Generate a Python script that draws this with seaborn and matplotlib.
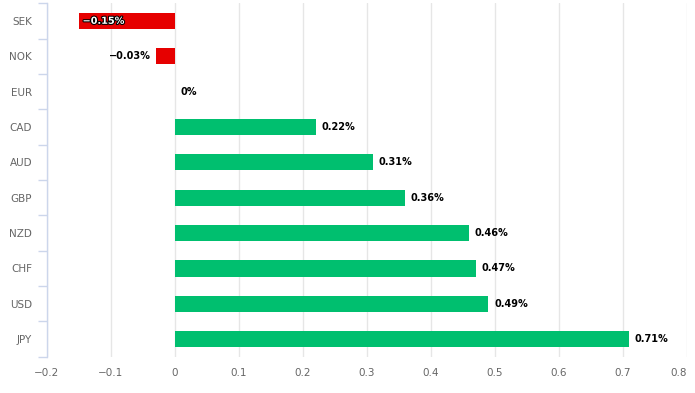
import numpy as np
import pandas as pd
import matplotlib.pyplot as plt
import matplotlib.patheffects as pe
import seaborn as sns

currencies = ['SEK', 'NOK', 'EUR', 'CAD', 'AUD', 'GBP', 'NZD', 'CHF', 'USD', 'JPY']
changes = [-0.15, -0.03, 0.0, 0.22, 0.31, 0.36, 0.46, 0.47, 0.49, 0.71]
labels = ['\u22120.15%', '\u22120.03%', '0%', '0.22%', '0.31%', '0.36%',
          '0.46%', '0.47%', '0.49%', '0.71%']
x_ticks = [-0.2, -0.1, 0, 0.1, 0.2, 0.3, 0.4, 0.5, 0.6, 0.7, 0.8]
x_ticklabels = ['\u22120.2', '\u22120.1', '0', '0.1', '0.2', '0.3', '0.4',
                '0.5', '0.6', '0.7', '0.8']

df = pd.DataFrame({'currency': currencies, 'change': changes})
df['sign'] = np.where(df['change'] < 0, 'neg', 'pos')

sns.set_theme(style='white')
plt.rcParams['font.family'] = ['DejaVu Sans']

fig = plt.figure(figsize=(6.95, 3.93), dpi=100)
ax = fig.add_axes([0.0672, 0.092, 0.921, 0.9])

sns.barplot(data=df, x='change', y='currency', hue='sign', orient='h',
            palette={'neg': '#e60000', 'pos': '#00bf6f'}, width=0.46,
            dodge=False, legend=False, saturation=1, linewidth=0, ax=ax)

ax.set_xlim(-0.2, 0.8)
ax.set_ylim(len(currencies) - 0.5, -0.5)
ax.set_xticks(x_ticks)
ax.set_xticklabels(x_ticklabels)
# last label is pulled inside the chart, like the original
ax.get_xticklabels()[-1].set_horizontalalignment('right')
ax.grid(axis='x', color='#e6e6e6', linewidth=1)
ax.set_axisbelow(True)
ax.set_xlabel('')
ax.set_ylabel('')

for s in ['top', 'right', 'bottom']:
    ax.spines[s].set_visible(False)
ax.spines['left'].set_color('#ccd6eb')
ax.spines['left'].set_linewidth(1)

ax.tick_params(axis='x', length=0, labelsize=7.5, labelcolor='#666666', pad=8)
ax.tick_params(axis='y', which='major', length=0, labelsize=7.5,
               labelcolor='#666666', pad=10.5)
ax.set_yticks(np.arange(-0.5, len(currencies), 1), minor=True)
ax.tick_params(axis='y', which='minor', left=True, length=6.5,
               color='#ccd6eb', width=1)

for i, (v, lab) in enumerate(zip(changes, labels)):
    if v <= -0.1:
        ax.text(v + 0.006, i, lab, ha='left', va='center', fontsize=7,
                fontweight='bold', color='white',
                path_effects=[pe.withStroke(linewidth=1.5, foreground='black')])
    elif v < 0:
        ax.text(v - 0.008, i, lab, ha='right', va='center', fontsize=7,
                fontweight='bold', color='black')
    else:
        ax.text(v + 0.009, i, lab, ha='left', va='center', fontsize=7,
                fontweight='bold', color='black')

fig.savefig('out.png', dpi=100)
